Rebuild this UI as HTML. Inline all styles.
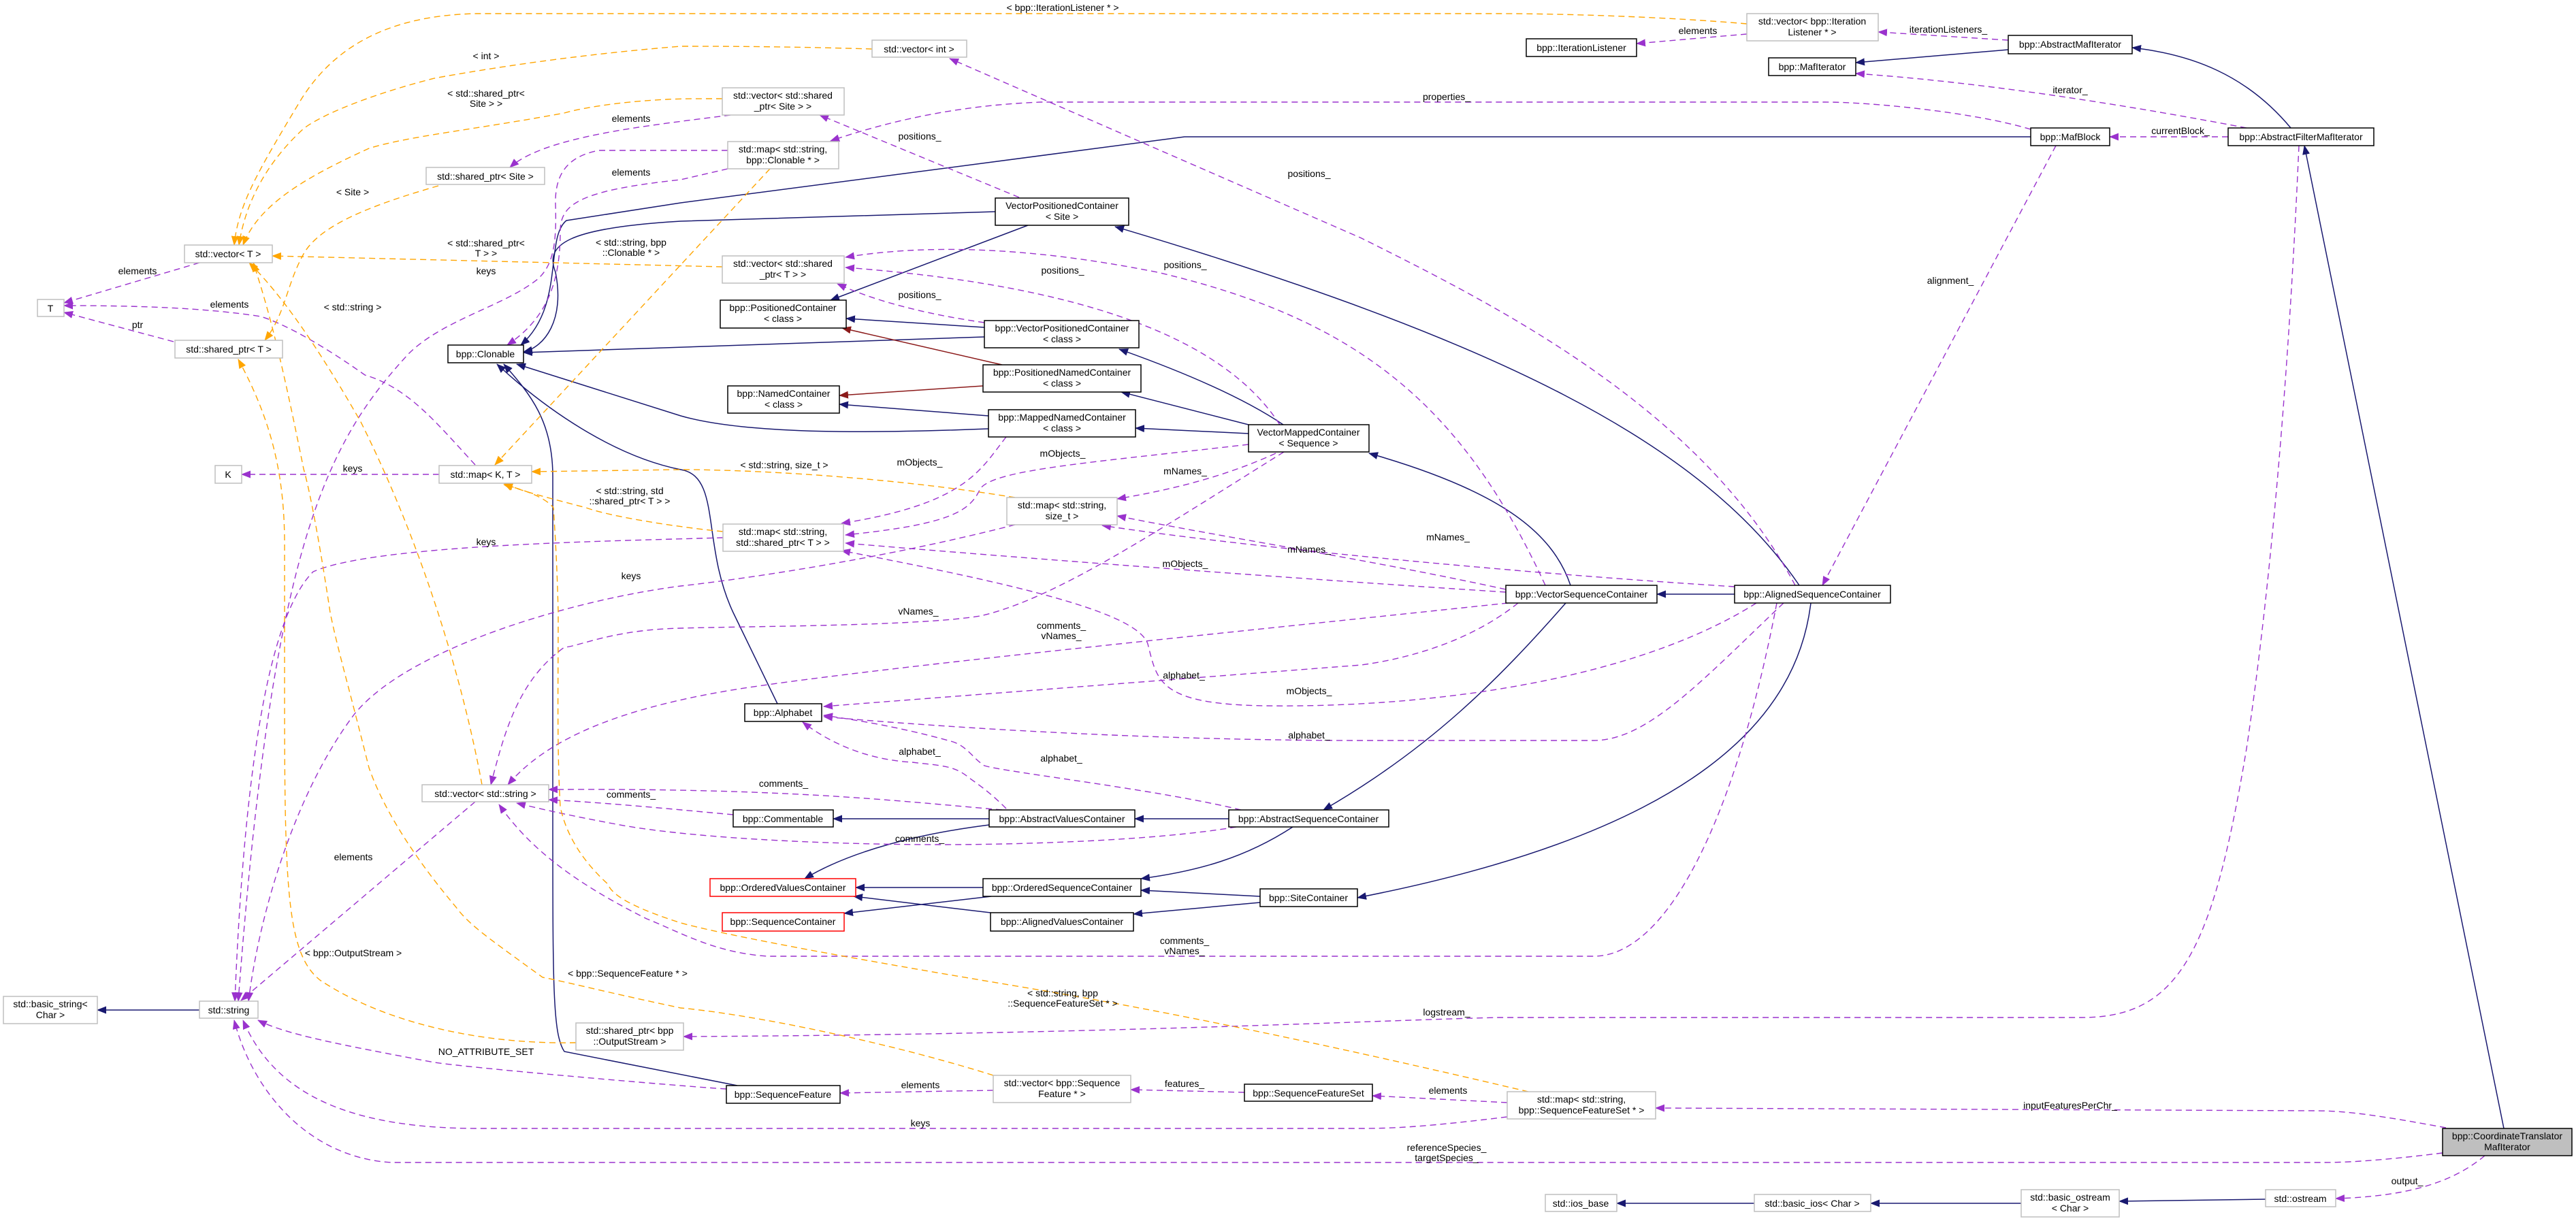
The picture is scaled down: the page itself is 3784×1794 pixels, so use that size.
<!DOCTYPE html>
<html><head><meta charset="utf-8"><style>
html,body{margin:0;padding:0;background:#fff}
svg{display:block}
text{font-family:"Liberation Sans",sans-serif;font-size:14px;fill:#000}
.n text,.l{text-anchor:middle}
.g{fill:#fff;stroke:#bfbfbf;stroke-width:1.5}
.b{fill:#fff;stroke:#000;stroke-width:1.5}
.r{fill:#fff;stroke:#ff0000;stroke-width:1.5}
.c{fill:#bfbfbf;stroke:#000;stroke-width:1.5}
.p{fill:none;stroke:#9a32cd;stroke-width:1.4;stroke-dasharray:9,6;marker-end:url(#mp)}
.o{fill:none;stroke:#ffa500;stroke-width:1.4;stroke-dasharray:9,6;marker-end:url(#mo)}
.v{fill:none;stroke:#191970;stroke-width:1.5;marker-end:url(#mv)}
.f{fill:none;stroke:#8b1a1a;stroke-width:1.5;marker-end:url(#mf)}
</style></head><body>
<svg width="3784" height="1794" viewBox="0 0 3784 1794" xmlns="http://www.w3.org/2000/svg">
<defs>
<marker id="mp" markerUnits="userSpaceOnUse" markerWidth="14" markerHeight="12" refX="13" refY="5.5" orient="auto"><path d="M0,0L14,5.5L0,11z" fill="#9a32cd"/></marker>
<marker id="mo" markerUnits="userSpaceOnUse" markerWidth="14" markerHeight="12" refX="13" refY="5.5" orient="auto"><path d="M0,0L14,5.5L0,11z" fill="#ffa500"/></marker>
<marker id="mv" markerUnits="userSpaceOnUse" markerWidth="14" markerHeight="12" refX="13" refY="5.5" orient="auto"><path d="M0,0L14,5.5L0,11z" fill="#191970"/></marker>
<marker id="mf" markerUnits="userSpaceOnUse" markerWidth="14" markerHeight="12" refX="13" refY="5.5" orient="auto"><path d="M0,0L14,5.5L0,11z" fill="#8b1a1a"/></marker>
</defs>

<!-- navy inheritance -->
<path class="v" d="M293,1484L143,1484"/>
<path class="v" d="M2983,201L1740,201L1000,298L832,324C800,350 830,450 765,507"/>
<path class="v" d="M1462,311L1000,325C830,335 800,360 816,400C830,470 800,510 769,517"/>
<path class="v" d="M1446,495L769,518"/>
<path class="v" d="M1452,630C1300,636 1100,640 1000,611L759,535"/>
<path class="v" d="M1142,1034L1077,900C1030,800 1060,700 1000,690C900,670 800,600 730,535"/>
<path class="v" d="M1083,1595L829,1545C812,1520 812,1450 812,1200L812,700C812,620 780,580 740,535"/>
<path class="v" d="M1510,331L1220,441"/>
<path class="v" d="M1446,481L1243,468"/>
<path class="f" d="M1472,536L1237,482"/>
<path class="f" d="M1444,567L1233,581"/>
<path class="v" d="M1452,611L1233,594"/>
<path class="v" d="M1885,624C1820,580 1720,540 1644,513"/>
<path class="v" d="M1834,624L1647,576"/>
<path class="v" d="M1834,637L1668,629"/>
<path class="v" d="M2307,860C2280,780 2200,720 2011,666"/>
<path class="v" d="M2548,873L2434,873"/>
<path class="v" d="M2643,860C2500,650 2200,500 1638,333"/>
<path class="v" d="M2300,886C2200,1000 2100,1100 1944,1190"/>
<path class="v" d="M2660,886C2640,1050 2500,1220 1994,1319"/>
<path class="v" d="M1805,1203L1667,1203"/>
<path class="v" d="M1453,1203L1224,1203"/>
<path class="v" d="M1453,1212C1350,1225 1250,1250 1182,1291"/>
<path class="v" d="M1899,1215C1830,1260 1760,1280 1676,1291"/>
<path class="v" d="M1444,1304L1257,1304"/>
<path class="v" d="M1456,1317L1240,1342"/>
<path class="v" d="M1455,1341L1254,1317"/>
<path class="v" d="M1851,1317L1676,1308"/>
<path class="v" d="M1851,1326L1665,1343"/>
<path class="v" d="M2950,73L2726,92"/>
<path class="v" d="M3365,188C3300,110 3220,80 3132,70"/>
<path class="v" d="M3678,1658L3385,214"/>
<path class="v" d="M3328,1762L3113,1765"/>
<path class="v" d="M2969,1768L2748,1768"/>
<path class="v" d="M2577,1768L2375,1768"/>

<!-- purple dashed -->
<path class="p" d="M2566,50L2404,64"/>
<path class="p" d="M2950,59L2759,47"/>
<path class="p" d="M3300,188C3100,150 2900,120 2726,108"/>
<path class="p" d="M3273,201L3099,201"/>
<path class="p" d="M2983,190C2900,165 2750,150 2680,150L1529,150C1400,155 1300,180 1220,207"/>
<path class="p" d="M3020,214L2677,860"/>
<path class="p" d="M3377,214C3360,600 3330,900 3300,1100C3250,1400 3200,1495 3058,1495L2200,1495C2000,1500 1600,1520 1004,1523"/>
<path class="p" d="M2637,860C2500,600 2200,450 2000,350L1395,86"/>
<path class="p" d="M1497,290L1204,169"/>
<path class="p" d="M1073,169C950,185 800,200 749,246"/>
<path class="p" d="M1069,221L880,221C830,230 815,260 816,300C818,360 812,390 790,410C740,450 650,470 600,520C480,650 400,800 350,1471"/>
<path class="p" d="M1069,248L1000,264C850,280 823,300 823,340C823,420 800,470 745,507"/>
<path class="p" d="M1446,474C1350,460 1280,440 1230,417"/>
<path class="p" d="M1880,624C1800,500 1600,420 1242,393"/>
<path class="p" d="M2270,860C2150,600 2000,470 1700,400C1500,360 1350,360 1242,378"/>
<path class="p" d="M1478,642C1440,690 1420,740 1236,769"/>
<path class="p" d="M1834,653C1600,680 1460,690 1440,718C1425,750 1400,770 1242,786"/>
<path class="p" d="M1874,666C1800,700 1720,720 1641,733"/>
<path class="p" d="M2212,866C2000,820 1800,790 1641,758"/>
<path class="p" d="M2548,862C2200,840 1800,800 1619,772"/>
<path class="p" d="M2212,870C1900,850 1500,820 1242,798"/>
<path class="p" d="M2580,886C2400,1000 2100,1040 1860,1037C1700,1035 1700,1000 1686,946C1670,900 1500,860 1236,809"/>
<path class="p" d="M1886,664C1700,780 1550,880 1440,905C1350,920 1100,920 1000,923C900,925 850,950 829,951C760,1000 740,1080 721,1153"/>
<path class="p" d="M2215,886C1800,930 1300,980 1100,1010C900,1040 800,1090 746,1153"/>
<path class="p" d="M2230,886C2150,950 2050,970 2000,977L1210,1038"/>
<path class="p" d="M2620,886C2500,1000 2420,1088 2341,1088L2000,1088C1700,1088 1400,1070 1210,1053"/>
<path class="p" d="M1478,1188C1450,1160 1434,1151 1420,1140C1400,1125 1383,1125 1340,1120C1287,1117 1230,1100 1179,1061"/>
<path class="p" d="M1823,1190C1700,1160 1480,1135 1446,1125C1430,1115 1421,1097 1400,1090C1330,1070 1260,1058 1210,1051"/>
<path class="p" d="M1077,1197C1000,1190 900,1180 806,1175"/>
<path class="p" d="M1472,1190C1300,1175 1150,1158 806,1160"/>
<path class="p" d="M1816,1215C1700,1235 1500,1241 1383,1241C1200,1241 1000,1230 900,1210C820,1195 780,1185 759,1180"/>
<path class="p" d="M2610,886C2550,1200 2450,1405 2341,1405L1128,1405C1050,1400 1000,1370 950,1350C850,1300 780,1250 733,1182"/>
<path class="p" d="M698,1178L354,1470"/>
<path class="p" d="M1067,1600C1000,1596 700,1570 638,1561C500,1535 420,1520 379,1499"/>
<path class="p" d="M2214,1641C2100,1655 2050,1658 2000,1658L702,1658C500,1658 400,1600 357,1499"/>
<path class="p" d="M3588,1694C3500,1705 3450,1708 3411,1708L574,1708C450,1700 370,1600 344,1499"/>
<path class="p" d="M3593,1657C3500,1640 3450,1632 3400,1632L2432,1628"/>
<path class="p" d="M2214,1620L2016,1610"/>
<path class="p" d="M1828,1605L1661,1601"/>
<path class="p" d="M1459,1602L1234,1606"/>
<path class="p" d="M3650,1698C3600,1740 3530,1758 3431,1761"/>
<path class="p" d="M293,386L94,445"/>
<path class="p" d="M255,502L94,459"/>
<path class="p" d="M698,683C640,620 600,570 536,551C450,490 400,470 383,465C300,452 200,449 94,449"/>
<path class="p" d="M645,697L355,697"/>
<path class="p" d="M1062,790C900,795 550,800 460,840C400,900 360,1100 345,1471"/>
<path class="p" d="M1491,771C1300,820 1100,850 1000,861C850,880 600,950 520,1050C430,1170 380,1350 365,1471"/>

<!-- orange dashed -->
<path class="o" d="M2566,35C2450,25 2300,20 2200,20L700,20C600,22 500,50 440,150C380,250 350,300 344,360"/>
<path class="o" d="M1281,72C1150,68 1050,68 1000,68C850,80 720,100 638,115C540,140 470,170 446,189C390,240 360,300 351,360"/>
<path class="o" d="M1061,145C1020,145 1000,145 980,146C900,150 850,160 829,166C700,190 600,200 542,218C450,260 380,300 357,360"/>
<path class="o" d="M1061,392L400,376"/>
<path class="o" d="M644,273C550,300 470,330 446,373C420,420 420,460 389,500"/>
<path class="o" d="M1131,248L727,683"/>
<path class="o" d="M1062,781C1000,775 900,760 861,746C800,730 760,720 740,710"/>
<path class="o" d="M1491,731C1300,700 1100,690 1000,690L781,693"/>
<path class="o" d="M708,1153C680,1000 620,800 530,620C450,480 400,420 366,386"/>
<path class="o" d="M846,1532C700,1535 560,1500 470,1440C420,1400 418,1300 418,1000L418,800C418,700 400,620 350,528"/>
<path class="o" d="M1459,1580C1300,1530 1100,1490 1000,1481C900,1460 820,1440 797,1436C720,1380 690,1360 670,1333C600,1250 560,1180 542,1128C510,1000 495,950 485,900C470,800 455,720 446,689C420,560 400,470 372,386"/>
<path class="o" d="M2245,1604C2100,1570 1800,1500 1500,1450C1200,1400 1050,1370 1000,1356C950,1340 900,1320 893,1299C850,1260 830,1220 823,1185C818,1100 820,1000 820,900C818,820 815,780 813,746C800,730 770,720 740,712"/>

<!-- nodes -->
<g class="n">
<rect class="g" x="271" y="360" width="129" height="26"/><text x="335" y="378">std::vector&lt; T &gt;</text>
<rect class="g" x="55" y="440" width="39" height="25"/><text x="74" y="458">T</text>
<rect class="g" x="257" y="500" width="158" height="26"/><text x="336" y="518">std::shared_ptr&lt; T &gt;</text>
<rect class="g" x="626" y="246" width="174" height="25"/><text x="713" y="264">std::shared_ptr&lt; Site &gt;</text>
<rect class="g" x="316" y="684" width="39" height="26"/><text x="335" y="702">K</text>
<rect class="g" x="645" y="684" width="136" height="26"/><text x="713" y="702">std::map&lt; K, T &gt;</text>
<rect class="g" x="1281" y="59" width="139" height="25"/><text x="1350" y="77">std::vector&lt; int &gt;</text>
<rect class="g" x="1061" y="129" width="179" height="40"/><text x="1150" y="145">std::vector&lt; std::shared</text><text x="1150" y="161">_ptr&lt; Site &gt; &gt;</text>
<rect class="g" x="1069" y="208" width="163" height="40"/><text x="1150" y="224">std::map&lt; std::string,</text><text x="1150" y="240">bpp::Clonable * &gt;</text>
<rect class="g" x="1061" y="376" width="179" height="40"/><text x="1150" y="392">std::vector&lt; std::shared</text><text x="1150" y="408">_ptr&lt; T &gt; &gt;</text>
<rect class="g" x="1479" y="731" width="162" height="40"/><text x="1560" y="747">std::map&lt; std::string,</text><text x="1560" y="763">size_t &gt;</text>
<rect class="g" x="1062" y="770" width="177" height="40"/><text x="1150" y="786">std::map&lt; std::string,</text><text x="1150" y="802">std::shared_ptr&lt; T &gt; &gt;</text>
<rect class="g" x="2566" y="20" width="193" height="40"/><text x="2662" y="36">std::vector&lt; bpp::Iteration</text><text x="2662" y="52">Listener * &gt;</text>
<rect class="g" x="620" y="1153" width="186" height="25"/><text x="713" y="1171">std::vector&lt; std::string &gt;</text>
<rect class="g" x="5" y="1464" width="138" height="40"/><text x="74" y="1480">std::basic_string&lt;</text><text x="74" y="1496">Char &gt;</text>
<rect class="g" x="293" y="1471" width="86" height="25"/><text x="336" y="1489">std::string</text>
<rect class="g" x="846" y="1503" width="158" height="40"/><text x="925" y="1519">std::shared_ptr&lt; bpp</text><text x="925" y="1535">::OutputStream &gt;</text>
<rect class="g" x="1459" y="1580" width="202" height="40"/><text x="1560" y="1596">std::vector&lt; bpp::Sequence</text><text x="1560" y="1612">Feature * &gt;</text>
<rect class="g" x="2214" y="1604" width="218" height="40"/><text x="2323" y="1620">std::map&lt; std::string,</text><text x="2323" y="1636">bpp::SequenceFeatureSet * &gt;</text>
<rect class="g" x="3328" y="1748" width="103" height="25"/><text x="3379" y="1766">std::ostream</text>
<rect class="g" x="2969" y="1748" width="144" height="40"/><text x="3041" y="1764">std::basic_ostream</text><text x="3041" y="1780">&lt; Char &gt;</text>
<rect class="g" x="2577" y="1755" width="171" height="25"/><text x="2662" y="1773">std::basic_ios&lt; Char &gt;</text>
<rect class="g" x="2270" y="1755" width="105" height="25"/><text x="2322" y="1773">std::ios_base</text>

<rect class="b" x="658" y="507" width="111" height="26"/><text x="713" y="525">bpp::Clonable</text>
<rect class="b" x="1462" y="291" width="196" height="40"/><text x="1560" y="307">VectorPositionedContainer</text><text x="1560" y="323">&lt; Site &gt;</text>
<rect class="b" x="1058" y="441" width="185" height="41"/><text x="1150" y="457">bpp::PositionedContainer</text><text x="1150" y="473">&lt; class &gt;</text>
<rect class="b" x="1446" y="471" width="227" height="40"/><text x="1560" y="487">bpp::VectorPositionedContainer</text><text x="1560" y="503">&lt; class &gt;</text>
<rect class="b" x="1444" y="536" width="232" height="40"/><text x="1560" y="552">bpp::PositionedNamedContainer</text><text x="1560" y="568">&lt; class &gt;</text>
<rect class="b" x="1069" y="567" width="164" height="40"/><text x="1151" y="583">bpp::NamedContainer</text><text x="1151" y="599">&lt; class &gt;</text>
<rect class="b" x="1452" y="602" width="216" height="40"/><text x="1560" y="618">bpp::MappedNamedContainer</text><text x="1560" y="634">&lt; class &gt;</text>
<rect class="b" x="1834" y="624" width="177" height="40"/><text x="1922" y="640">VectorMappedContainer</text><text x="1922" y="656">&lt; Sequence &gt;</text>
<rect class="b" x="2242" y="57" width="162" height="26"/><text x="2323" y="75">bpp::IterationListener</text>
<rect class="b" x="2950" y="52" width="182" height="27"/><text x="3041" y="70">bpp::AbstractMafIterator</text>
<rect class="b" x="2598" y="85" width="128" height="26"/><text x="2662" y="103">bpp::MafIterator</text>
<rect class="b" x="2983" y="188" width="116" height="26"/><text x="3041" y="206">bpp::MafBlock</text>
<rect class="b" x="3273" y="188" width="214" height="26"/><text x="3380" y="206">bpp::AbstractFilterMafIterator</text>
<rect class="b" x="2212" y="860" width="222" height="26"/><text x="2323" y="878">bpp::VectorSequenceContainer</text>
<rect class="b" x="2548" y="860" width="229" height="26"/><text x="2662" y="878">bpp::AlignedSequenceContainer</text>
<rect class="b" x="1094" y="1034" width="113" height="26"/><text x="1150" y="1052">bpp::Alphabet</text>
<rect class="b" x="1077" y="1190" width="147" height="25"/><text x="1150" y="1208">bpp::Commentable</text>
<rect class="b" x="1453" y="1190" width="214" height="25"/><text x="1560" y="1208">bpp::AbstractValuesContainer</text>
<rect class="b" x="1805" y="1190" width="235" height="25"/><text x="1922" y="1208">bpp::AbstractSequenceContainer</text>
<rect class="b" x="1851" y="1306" width="143" height="26"/><text x="1922" y="1324">bpp::SiteContainer</text>
<rect class="b" x="1455" y="1341" width="210" height="27"/><text x="1560" y="1359">bpp::AlignedValuesContainer</text>
<rect class="b" x="1444" y="1291" width="232" height="26"/><text x="1560" y="1309">bpp::OrderedSequenceContainer</text>
<rect class="b" x="1067" y="1595" width="167" height="26"/><text x="1150" y="1613">bpp::SequenceFeature</text>
<rect class="b" x="1828" y="1593" width="188" height="25"/><text x="1922" y="1611">bpp::SequenceFeatureSet</text>
<rect class="r" x="1043" y="1291" width="214" height="26"/><text x="1150" y="1309">bpp::OrderedValuesContainer</text>
<rect class="r" x="1061" y="1341" width="179" height="27"/><text x="1150" y="1359">bpp::SequenceContainer</text>
<rect class="c" x="3588" y="1658" width="190" height="40"/><text x="3683" y="1674">bpp::CoordinateTranslator</text><text x="3683" y="1690">MafIterator</text>
</g>

<!-- edge labels -->
<g class="l">
<text class="l" x="1561" y="16">&lt; bpp::IterationListener * &gt;</text>
<text class="l" x="714" y="87">&lt; int &gt;</text>
<text class="l" x="714" y="142">&lt; std::shared_ptr&lt;</text><text class="l" x="714" y="157">Site &gt; &gt;</text>
<text class="l" x="927" y="179">elements</text>
<text class="l" x="927" y="258">elements</text>
<text class="l" x="518" y="287">&lt; Site &gt;</text>
<text class="l" x="714" y="362">&lt; std::shared_ptr&lt;</text><text class="l" x="714" y="377">T &gt; &gt;</text>
<text class="l" x="927" y="361">&lt; std::string, bpp</text><text class="l" x="927" y="376">::Clonable * &gt;</text>
<text class="l" x="714" y="403">keys</text>
<text class="l" x="202" y="403">elements</text>
<text class="l" x="337" y="452">elements</text>
<text class="l" x="202" y="482">ptr</text>
<text class="l" x="518" y="456">&lt; std::string &gt;</text>
<text class="l" x="518" y="693">keys</text>
<text class="l" x="925" y="726">&lt; std::string, std</text><text class="l" x="925" y="741">::shared_ptr&lt; T &gt; &gt;</text>
<text class="l" x="714" y="801">keys</text>
<text class="l" x="927" y="851">keys</text>
<text class="l" x="1351" y="205">positions_</text>
<text class="l" x="1923" y="260">positions_</text>
<text class="l" x="1561" y="402">positions_</text>
<text class="l" x="1741" y="394">positions_</text>
<text class="l" x="1351" y="438">positions_</text>
<text class="l" x="1351" y="684">mObjects_</text>
<text class="l" x="1561" y="671">mObjects_</text>
<text class="l" x="1741" y="697">mNames_</text>
<text class="l" x="1923" y="812">mNames_</text>
<text class="l" x="1741" y="833">mObjects_</text>
<text class="l" x="1152" y="688">&lt; std::string, size_t &gt;</text>
<text class="l" x="1349" y="903">vNames_</text>
<text class="l" x="2494" y="50">elements</text>
<text class="l" x="2862" y="48">iterationListeners_</text>
<text class="l" x="3041" y="137">iterator_</text>
<text class="l" x="2125" y="147">properties_</text>
<text class="l" x="3203" y="197">currentBlock_</text>
<text class="l" x="2865" y="417">alignment_</text>
<text class="l" x="2127" y="794">mNames_</text>
<text class="l" x="927" y="1172">comments_</text>
<text class="l" x="519" y="1264">elements</text>
<text class="l" x="519" y="1405">&lt; bpp::OutputStream &gt;</text>
<text class="l" x="922" y="1435">&lt; bpp::SequenceFeature * &gt;</text>
<text class="l" x="714" y="1550">NO_ATTRIBUTE_SET</text>
<text class="l" x="1559" y="924">comments_</text><text class="l" x="1559" y="939">vNames_</text>
<text class="l" x="1739" y="997">alphabet_</text>
<text class="l" x="1923" y="1020">mObjects_</text>
<text class="l" x="1923" y="1085">alphabet_</text>
<text class="l" x="1351" y="1109">alphabet_</text>
<text class="l" x="1559" y="1119">alphabet_</text>
<text class="l" x="1151" y="1156">comments_</text>
<text class="l" x="1351" y="1237">comments_</text>
<text class="l" x="1740" y="1387">comments_</text><text class="l" x="1740" y="1402">vNames_</text>
<text class="l" x="1561" y="1464">&lt; std::string, bpp</text><text class="l" x="1561" y="1479">::SequenceFeatureSet * &gt;</text>
<text class="l" x="1352" y="1599">elements</text>
<text class="l" x="1740" y="1597">features_</text>
<text class="l" x="1352" y="1655">keys</text>
<text class="l" x="2125" y="1492">logstream_</text>
<text class="l" x="2127" y="1607">elements</text>
<text class="l" x="3041" y="1629">inputFeaturesPerChr_</text>
<text class="l" x="2125" y="1691">referenceSpecies_</text><text class="l" x="2125" y="1706">targetSpecies_</text>
<text class="l" x="3536" y="1740">output_</text>
</g>
</svg>
</body></html>
